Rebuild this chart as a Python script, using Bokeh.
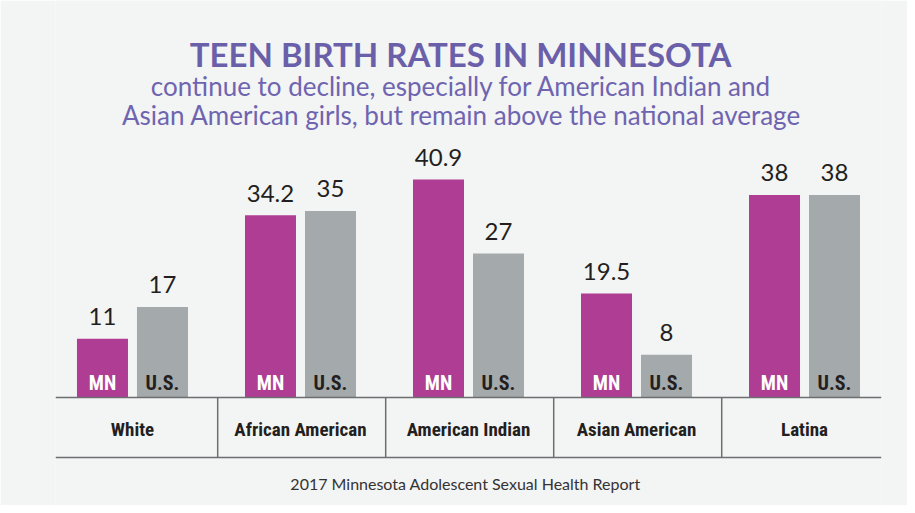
from bokeh.plotting import figure
from bokeh.models import FactorRange, ColumnDataSource, Span, Label, Range1d
from bokeh.transform import dodge
from bokeh.core.properties import value
from bokeh.embed import file_html
from bokeh.resources import INLINE

# ---- data ----
categories = ["White", "African American", "American Indian", "Asian American", "Latina"]
series = ["MN", "U.S."]
mn_rates = [11, 34.2, 40.9, 19.5, 38]
us_rates = [17, 35, 27, 8, 38]
title_text = "TEEN BIRTH RATES IN MINNESOTA"
subtitle_lines = [
    "continue to decline, especially for American Indian and",
    "Asian American girls, but remain above the national average",
]
source_text = "2017 Minnesota Adolescent Sexual Health Report"

# ---- styles ----
BG = "#f3f4f4"
MN_COLOR = "#b03d94"
US_COLOR = "#a4a9ab"
DARK = "#231f20"
PURPLE = "#6a60aa"
SUB_PURPLE = "#6f64b0"
RULE = "#6d6e70"
COND = value("'Roboto Condensed', 'Roboto', sans-serif")
LOWER_RULE = -11.26

factors = [(c, s) for c in categories for s in series]
rates = [v for pair in zip(mn_rates, us_rates) for v in pair]
src = ColumnDataSource(dict(
    x=factors,
    rate=rates,
    label=[f"{v:g}" for v in rates],
    series=[s for _ in categories for s in series],
    color=[MN_COLOR, US_COLOR] * len(categories),
    tcolor=["#ffffff", DARK] * len(categories),
))

x_range = FactorRange(*factors, factor_padding=0.0, group_padding=0.8,
                      range_padding=0.283, range_padding_units="absolute")

p = figure(x_range=x_range, y_range=Range1d(-20.26, 74.48),
           width=907, height=505, output_backend="svg", toolbar_location=None,
           x_axis_location=None, y_axis_location=None,
           min_border_left=55, min_border_right=26, min_border_top=0, min_border_bottom=0,
           background_fill_color=BG, border_fill_color=BG, outline_line_color=None)
p.xgrid.visible = False
p.ygrid.visible = False

p.vbar(x="x", top="rate", bottom=0, width=0.85, fill_color="color", line_color=None, source=src)

# value labels above bars
p.text(x="x", y="rate", text="label", source=src, y_offset=-22,
       text_align="center", text_baseline="alphabetic",
       text_font=value("Lato"), text_font_size="24px", text_color=DARK)

# series labels inside bars
p.text(x="x", y=0, text="series", source=src, y_offset=-15,
       text_align="center", text_baseline="alphabetic",
       text_font=COND, text_font_style="bold", text_font_size="20px", text_color="tcolor")

# category labels
csrc = ColumnDataSource(dict(cat=categories))
p.text(x="cat", y=0, text="cat", source=csrc, y_offset=32,
       text_align="center", text_baseline="alphabetic",
       text_font=COND, text_font_style="bold", text_font_size="19px", text_color=DARK)

# rules
p.add_layout(Span(location=0, dimension="width", line_color=RULE, line_width=1.5))
p.add_layout(Span(location=LOWER_RULE, dimension="width", line_color=RULE, line_width=1.5))
ssrc = ColumnDataSource(dict(sep=[(c, series[-1]) for c in categories[:-1]]))
p.segment(x0=dodge("sep", 0.92, range=x_range), x1=dodge("sep", 0.92, range=x_range),
          y0=0, y1=LOWER_RULE, source=ssrc, line_color=RULE, line_width=1.5)

# titles (screen units relative to frame bottom-left)
p.add_layout(Label(x=405, y=452, x_units="screen", y_units="screen", text=title_text,
                   text_align="center", text_baseline="alphabetic", text_font="Lato",
                   text_font_style="bold", text_font_size="33px", text_color=PURPLE))
p.add_layout(Label(x=406, y=420, x_units="screen", y_units="screen", text=subtitle_lines[0],
                   text_align="center", text_baseline="alphabetic", text_font="Lato",
                   text_font_size="26px", text_color=SUB_PURPLE))
p.add_layout(Label(x=406, y=391, x_units="screen", y_units="screen", text=subtitle_lines[1],
                   text_align="center", text_baseline="alphabetic", text_font="Lato",
                   text_font_size="26px", text_color=SUB_PURPLE))
p.add_layout(Label(x=410, y=22, x_units="screen", y_units="screen", text=source_text,
                   text_align="center", text_baseline="alphabetic", text_font="Lato",
                   text_font_size="16px", text_color="#333333"))

open("out.html", "w").write(file_html(p, INLINE))
